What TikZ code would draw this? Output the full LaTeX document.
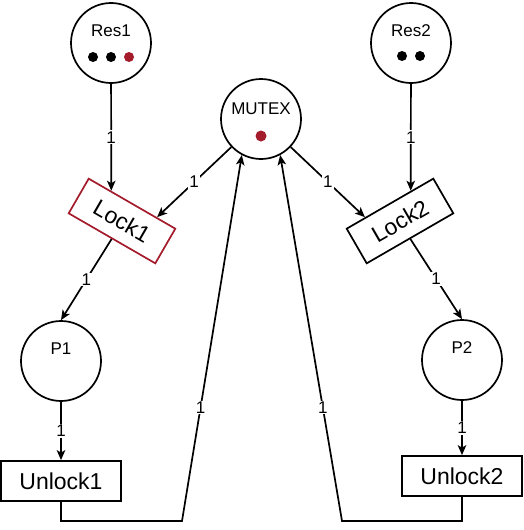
\documentclass[tikz,border=0pt]{standalone}
\usepackage{fontspec}
\setmainfont{Liberation Sans}
\usetikzlibrary{arrows.meta,calc}
\definecolor{tokred}{RGB}{164,28,44}
\begin{document}
\begin{tikzpicture}[x=1pt,y=-1pt,
  place/.style={circle,draw,line width=1.7pt,minimum size=80pt,inner sep=0pt},
  trans/.style={rectangle,draw,line width=1.7pt,minimum width=100pt,minimum height=40pt,inner sep=0pt,font=\fontsize{23}{26}\selectfont},
  untrans/.style={trans,minimum width=120pt},
  ptext/.style={font=\fontsize{17}{19}\selectfont,yshift=12pt},
  arr/.style={-{Stealth[length=10pt,width=8.5pt,inset=2.5pt]},line width=1.7pt},
  lbl/.style={fill=white,inner sep=1pt,font=\fontsize{17}{19}\selectfont},
  token/.style={fill=black},
  redtoken/.style={fill=tokred}]
\useasboundingbox (0,0) rectangle (523,530);

% places
\node[place,label={[ptext]center:Res1}] (res1) at (111,43) {};
\node[place,label={[ptext]center:Res2}] (res2) at (411,43) {};
\node[place,label={[ptext,yshift=-2pt]center:MUTEX}] (mutex) at (261,119) {};
\node[place,label={[ptext]center:P1}] (p1) at (61,361) {};
\node[place,label={[ptext]center:P2}] (p2) at (462,360) {};

% tokens
\fill[token] (93,57) circle (5pt);
\fill[token] (111,57) circle (5pt);
\fill[redtoken] (129,57) circle (5pt);
\fill[token] (402,56) circle (5pt);
\fill[token] (420,56) circle (5pt);
\fill[redtoken] (261,136) circle (5.5pt);

% transitions
\node[trans,draw=tokred,rotate=-30] (lock1) at (122,221) {Lock1};
\node[trans,rotate=30] (lock2) at (400,221) {Lock2};
\node[untrans] (unlock1) at (61,481) {Unlock1};
\node[untrans] (unlock2) at (462,476) {Unlock2};

% helper coordinates
\coordinate (l1a) at ($(lock1.north west)!0.26!(lock1.north east)$);
\coordinate (l1b) at ($(lock1.north west)!0.78!(lock1.north east)$);
\coordinate (l2a) at ($(lock2.north west)!0.22!(lock2.north east)$);
\coordinate (l2b) at ($(lock2.north west)!0.74!(lock2.north east)$);
\coordinate (b1) at (182,521);
\coordinate (b2) at (342,521);

% arcs
\draw[arr] (res1) -- node[lbl]{1} (l1a);
\draw[arr] (mutex) -- node[lbl]{1} (l1b);
\draw[arr] (mutex) -- node[lbl]{1} (l2a);
\draw[arr] (res2) -- node[lbl]{1} (l2b);
\draw[arr] (lock1.south) -- node[lbl]{1} (p1.north);
\draw[arr] (lock2.south) -- node[lbl]{1} (p2.north);
\draw[arr] (p1) -- node[lbl]{1} (unlock1);
\draw[arr] (p2) -- node[lbl]{1} (unlock2);
\draw[arr] (unlock1.south) |- (b1) -- node[lbl,pos=0.31]{1} (mutex.-118);
\draw[arr] (unlock2.south) |- (b2) -- node[lbl,pos=0.31]{1} (mutex.-62);
\end{tikzpicture}
\end{document}
